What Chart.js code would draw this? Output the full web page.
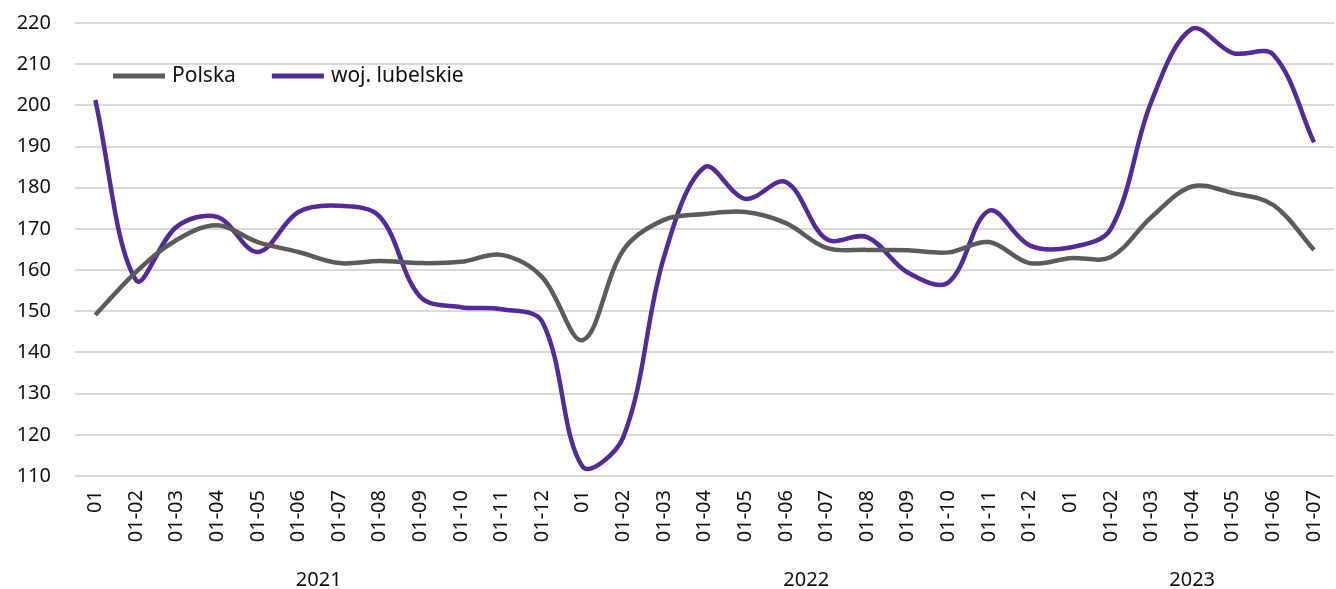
<!DOCTYPE html>
<html>
<head>
<meta charset="utf-8">
<script src="https://cdn.jsdelivr.net/npm/chart.js@4"></script>
<style>
  html, body { margin: 0; padding: 0; background: #fff; overflow: hidden; }
  #wrap { position: relative; width: 1344px; height: 589px; }
</style>
</head>
<body>
<div id="wrap"><canvas id="priceChart"></canvas></div>
<script>
const monthLabels = [
  '01', '01-02', '01-03', '01-04', '01-05', '01-06', '01-07', '01-08', '01-09', '01-10', '01-11', '01-12',
  '01', '01-02', '01-03', '01-04', '01-05', '01-06', '01-07', '01-08', '01-09', '01-10', '01-11', '01-12',
  '01', '01-02', '01-03', '01-04', '01-05', '01-06', '01-07'
];
const years = ['2021', '2022', '2023'];
const yearMonths = [12, 12, 7];

const polska = [
  149.1, 159.5, 167.3, 170.9, 166.8, 164.4, 161.7, 162.2, 161.7, 162.0, 163.7, 158.3,
  143.0, 164.9, 172.2, 173.6, 174.1, 171.4, 165.4, 164.9, 164.8, 164.3, 166.8, 161.7,
  162.9, 163.2, 172.9, 180.3, 178.7, 175.8, 164.9
];
const lubelskie = [
  201.3, 157.6, 170.5, 172.9, 164.4, 174.1, 175.6, 173.0, 153.5, 151.0, 150.5, 147.5,
  112.2, 119.5, 163.2, 185.0, 177.3, 181.4, 167.5, 168.0, 159.4, 157.0, 174.4, 166.0,
  165.5, 170.0, 201.0, 218.6, 212.7, 212.3, 191.0
];

const font = 'Noto Sans';

// legend inside the plot + year captions under the month labels
const extras = {
  id: 'extras',
  afterDraw(chart) {
    const ctx = chart.ctx;
    const x = chart.scales.x;
    ctx.save();
    ctx.font = '21px "' + font + '"';
    ctx.textBaseline = 'middle';
    ctx.textAlign = 'left';
    let lx = 113;
    chart.data.datasets.forEach(ds => {
      ctx.strokeStyle = ds.borderColor;
      ctx.lineWidth = 5;
      ctx.beginPath();
      ctx.moveTo(lx, 76);
      ctx.lineTo(lx + 52, 76);
      ctx.stroke();
      ctx.fillStyle = '#111';
      ctx.fillText(ds.label, lx + 59, 76);
      lx += 59 + ctx.measureText(ds.label).width + 36;
    });

    ctx.font = '20px "' + font + '"';
    ctx.textAlign = 'center';
    let start = 0;
    years.forEach((y, i) => {
      const mid = start + (yearMonths[i] - 1) / 2;
      ctx.fillText(y, x.getPixelForValue(mid), 580);
      start += yearMonths[i];
    });
    ctx.restore();
  }
};

new Chart(document.getElementById('priceChart'), {
  type: 'line',
  data: {
    labels: monthLabels,
    datasets: [
      {
        label: 'Polska',
        data: polska,
        borderColor: '#5b5b5b',
        borderWidth: 4.5,
        pointRadius: 0,
        tension: 0.35,
        fill: false
      },
      {
        label: 'woj. lubelskie',
        data: lubelskie,
        borderColor: '#53299b',
        borderWidth: 4.5,
        pointRadius: 0,
        tension: 0.35,
        fill: false
      }
    ]
  },
  options: {
    responsive: true,
    maintainAspectRatio: false,
    animation: false,
    layout: { padding: { top: 23, left: 0, right: 0, bottom: 0 } },
    plugins: {
      legend: { display: false },
      tooltip: { enabled: false }
    },
    scales: {
      x: {
        offset: true,
        grid: { display: false },
        border: { display: false },
        ticks: {
          autoSkip: false,
          maxRotation: 90,
          minRotation: 90,
          padding: 6,
          color: '#111',
          font: { family: font, size: 20 }
        },
        afterFit(s) { s.height = 113; }
      },
      y: {
        min: 110,
        max: 220,
        grid: { color: '#d9d9d9', lineWidth: 2, drawTicks: false },
        border: { display: false },
        ticks: {
          stepSize: 10,
          padding: 24,
          color: '#111',
          font: { family: font, size: 20 }
        },
        afterFit(s) {
          s.width = 75;
          s.paddingTop = 0;
          s.paddingBottom = 0;
        }
      }
    }
  },
  plugins: [extras]
});
</script>
</body>
</html>
